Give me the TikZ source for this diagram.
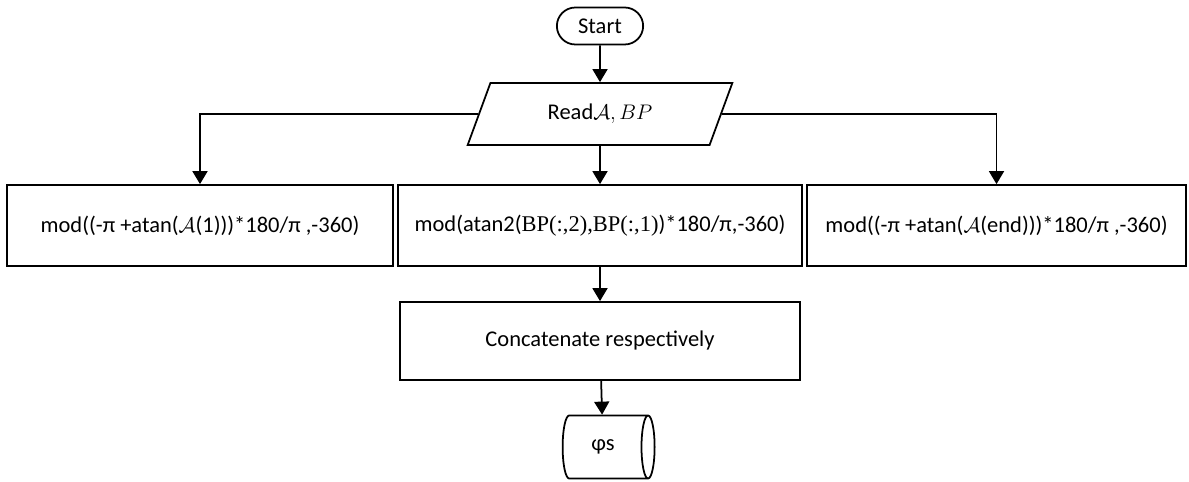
\documentclass[tikz,border=0pt]{standalone}
\usepackage{fontspec}
\setmainfont{Carlito}
\newfontfamily\serifpart{Liberation Serif}
\usetikzlibrary{shapes.geometric,shapes.misc,arrows.meta}
\tikzset{
  blk/.style={draw,line width=1pt,minimum height=1.62cm,align=center},
  conn/.style={line width=1pt,-{Triangle[length=2.6mm,width=3mm]}},
}
\begin{document}
\begin{tikzpicture}[x=0.02cm,y=-0.02cm,font=\fontsize{12.8}{15}\selectfont]
        \useasboundingbox (0,0) rectangle (1189,482);
        %% start and input
        \node[draw,line width=1pt,rounded rectangle,minimum width=1.96cm,minimum height=0.74cm] (start) at (600,26) {Start};
        \node[draw,line width=1pt,trapezium,trapezium left angle=69,trapezium right angle=111,
              trapezium stretches=true,minimum width=5.3cm,minimum height=1.24cm] (read) at (600,114) {Read$\mathcal{A}, BP$};
        %% the three angle blocks
        \node[blk,minimum width=7.72cm] (first) at (200,225.5) {mod((-π +atan($\mathcal{A}$(1)))*180/π ,-360)};
        \node[blk,minimum width=8.08cm] (mid) at (600,225.5) {mod(atan2({\serifpart BP(:,2),BP(:,1)})*180/π,-360)};
        \node[blk,minimum width=7.58cm] (last) at (996.5,225.5) {mod((-π +atan($\mathcal{A}$(end)))*180/π ,-360)};
        %% concatenation and output
        \node[blk,minimum width=8cm,minimum height=1.56cm] (cat) at (600,341) {Concatenate respectively};
        \node[draw,line width=1pt,cylinder,aspect=0.5,minimum width=1.26cm,minimum height=1.84cm] (phis) at (603,447) {φs};
        %% connectors
        \draw[conn] (start) -- (read);
        \draw[conn] (read.west) -| (first.north);
        \draw[conn] (read.east) -| (last.north);
        \draw[conn] (read.south) -- (mid.north);
        \draw[conn] (mid) -- (cat);
        \draw[conn] (cat) -- (phis);
\end{tikzpicture}
\end{document}
